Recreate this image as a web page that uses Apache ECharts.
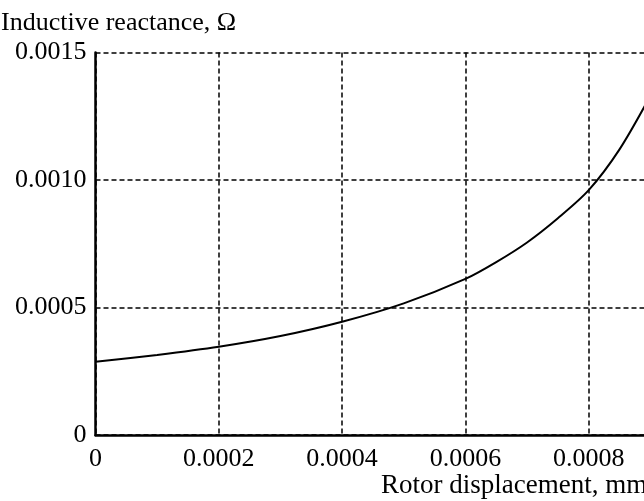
<!DOCTYPE html>
<html lang="en">
<head>
    <meta charset="UTF-8">
    <title>Inductive reactance</title>
    <script src="https://cdn.jsdelivr.net/npm/echarts@6/dist/echarts.min.js"></script>
</head>
<body style="margin:0">
    <div id="main" style="width: 644px;height:501px;"></div>
    <script type="text/javascript">
        // rotor displacement (mm) and inductive reactance (ohm)
        const displacement = [0, 0.0001, 0.0002, 0.0003, 0.0004, 0.0005, 0.0006, 0.00065, 0.0007, 0.00075, 0.0008, 0.00085, 0.0009];
        const reactance = [0.000287, 0.000314, 0.000346, 0.000388, 0.000444, 0.000516, 0.000612, 0.000678, 0.000755, 0.00085, 0.00096, 0.00112, 0.00133];

        const font = 'Liberation Serif';
        const dashed = { type: [5, 3], color: '#000', width: 1.5 };

        let myChart = echarts.init(document.getElementById('main'));
        myChart.setOption({
            animation: false,
            backgroundColor: '#fff',
            title: [
                { text: 'Inductive reactance, Ω', left: -4, top: 5,
                  textStyle: { fontFamily: font, fontSize: 26, fontWeight: 'normal', color: '#000' } },
                { text: 'Rotor displacement, mm', left: 376, top: 467,
                  textStyle: { fontFamily: font, fontSize: 27, fontWeight: 'normal', color: '#000' } }
            ],
            grid: { left: 95.5, top: 52.5, bottom: 66, right: -68, outerBoundsMode: 'none', containLabel: false },
            xAxis: {
                type: 'value', min: 0, max: 0.001, interval: 0.0002,
                offset: 4,
                axisLine: { lineStyle: { color: '#000', width: 2.5 } },
                axisTick: { show: false },
                axisLabel: {
                    fontFamily: font, fontSize: 26, color: '#000', margin: 7,
                    formatter: v => v === 0 ? '0' : v.toFixed(4)
                },
                splitLine: { lineStyle: dashed }
            },
            yAxis: {
                type: 'value', min: 0, max: 0.0015, interval: 0.0005,
                axisLine: { show: true, lineStyle: { color: '#000', width: 2.5 } },
                axisTick: { show: false },
                axisLabel: {
                    fontFamily: font, fontSize: 26, color: '#000', margin: 9,
                    formatter: v => v === 0 ? '0' : v.toFixed(4)
                },
                splitLine: { lineStyle: dashed }
            },
            series: [{
                type: 'line',
                data: displacement.map((x, i) => [x, reactance[i]]),
                smooth: 0.3,
                symbol: 'none',
                lineStyle: { color: '#000', width: 2 }
            }]
        });
    </script>
</body>
</html>
